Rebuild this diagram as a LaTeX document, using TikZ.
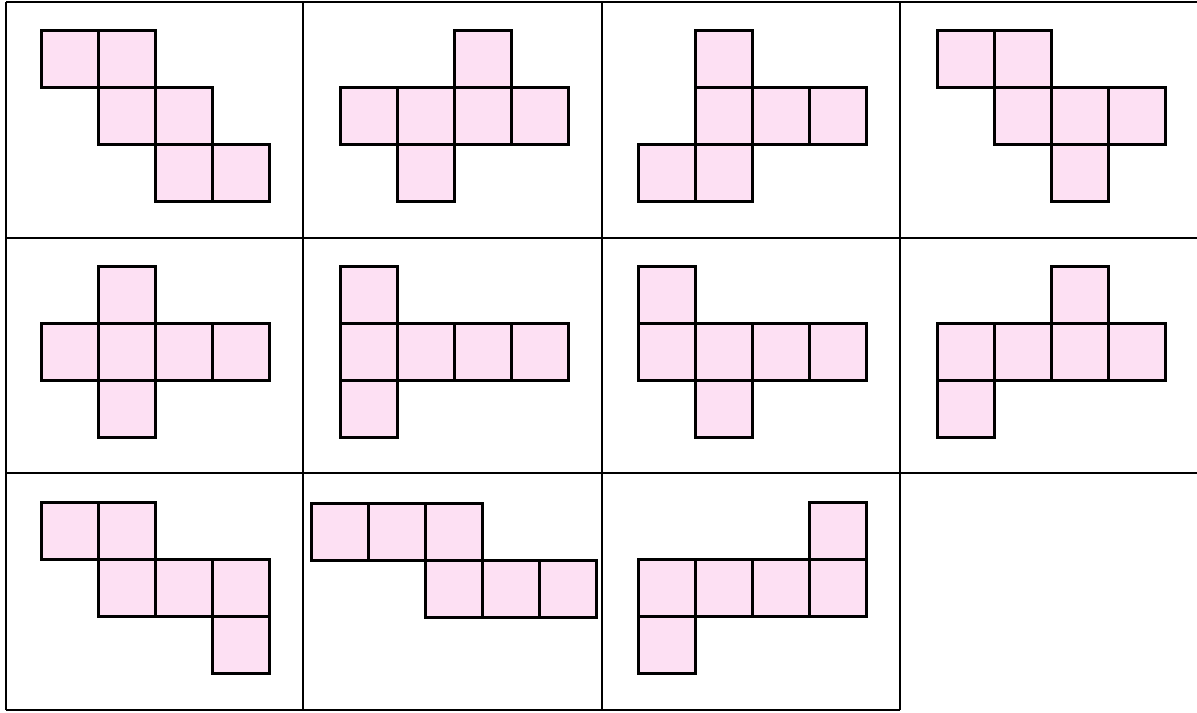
\documentclass[tikz,border=0pt]{standalone}
\definecolor{netpink}{RGB}{253,224,243}
\tikzset{
  face/.style={fill=netpink,draw=black,line width=1.5pt},
  gridline/.style={draw=black,line width=1.1pt}
}
\begin{document}
\begin{tikzpicture}[x=0.5pt,y=-0.5pt]
\useasboundingbox (0,0) rectangle (1197,712);
% grid
\foreach \yy in {2,238,473} \draw[gridline] (6,\yy) -- (1197,\yy);
\draw[gridline] (6,710) -- (900,710);
\foreach \xx in {6,303,602,900} \draw[gridline] (\xx,2) -- (\xx,710);
% squares (upper-left corners)
\foreach \px/\py in {
  41/30, 98/30, 98/87, 155/87, 155/144, 212/144,
  454/30, 340/87, 397/87, 454/87, 511/87, 397/144,
  695/30, 695/87, 752/87, 809/87, 638/144, 695/144,
  937/30, 994/30, 994/87, 1051/87, 1108/87, 1051/144,
  98/266, 41/323, 98/323, 155/323, 212/323, 98/380,
  340/266, 340/323, 397/323, 454/323, 511/323, 340/380,
  638/266, 638/323, 695/323, 752/323, 809/323, 695/380,
  1051/266, 937/323, 994/323, 1051/323, 1108/323, 937/380,
  41/502, 98/502, 98/559, 155/559, 212/559, 212/616,
  311/503, 368/503, 425/503, 425/560, 482/560, 539/560,
  809/502, 638/559, 695/559, 752/559, 809/559, 638/616}
  \draw[face] (\px,\py) rectangle ++(57,57);
\end{tikzpicture}
\end{document}
